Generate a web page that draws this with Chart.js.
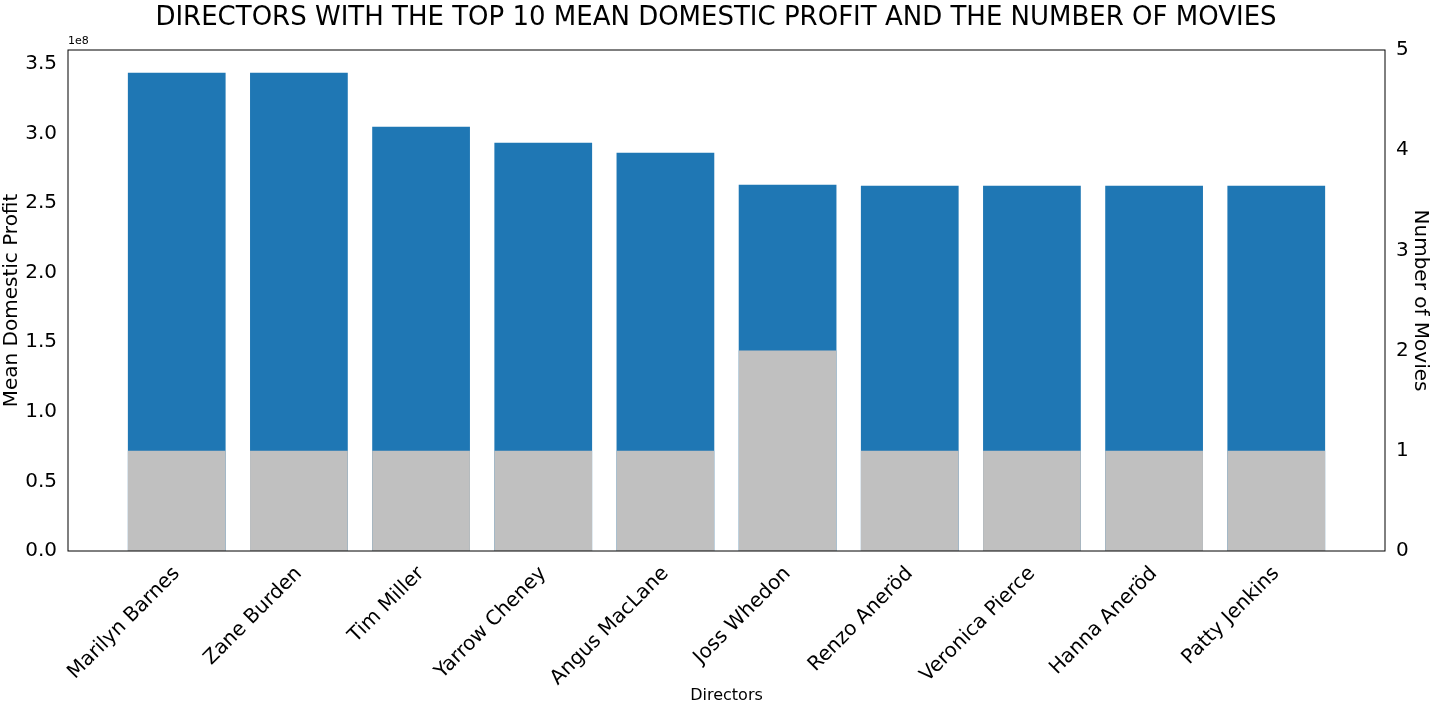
<!DOCTYPE html>
<html>
<head>
<meta charset="utf-8">
<script src="https://cdn.jsdelivr.net/npm/chart.js@4"></script>
<style>
  body { margin: 0; background: #fff; }
  #wrap { width: 1432px; height: 709px; }
</style>
</head>
<body>
<div id="wrap"><canvas id="chart"></canvas></div>
<script>
const directors = ['Marilyn Barnes', 'Zane Burden', 'Tim Miller', 'Yarrow Cheney', 'Angus MacLane',
  'Joss Whedon', 'Renzo Aneröd', 'Veronica Pierce', 'Hanna Aneröd', 'Patty Jenkins'];
const meanProfit = [3.436e8, 3.436e8, 3.048e8, 2.933e8, 2.861e8, 2.631e8, 2.624e8, 2.624e8, 2.624e8, 2.624e8];
const numMovies = [1, 1, 1, 1, 1, 2, 1, 1, 1, 1];
const profitTicks = [0, 0.5, 1.0, 1.5, 2.0, 2.5, 3.0, 3.5];
const movieTicks = [0, 1, 2, 3, 4, 5];

const FONT = 'DejaVu Sans';

// ===== frame, title and offset text =====
const framePlugin = {
  id: 'frame',
  afterDraw(chart) {
    const { ctx, chartArea: a } = chart;
    ctx.save();
    ctx.strokeStyle = '#000';
    ctx.lineWidth = 1;
    ctx.strokeRect(a.left, a.top, a.right - a.left, a.bottom - a.top);
    ctx.fillStyle = '#000';
    ctx.font = '26px ' + FONT;
    ctx.textAlign = 'center';
    ctx.textBaseline = 'middle';
    ctx.fillText('DIRECTORS WITH THE TOP 10 MEAN DOMESTIC PROFIT AND THE NUMBER OF MOVIES', 716, 18);
    ctx.font = '11px ' + FONT;
    ctx.textAlign = 'left';
    ctx.textBaseline = 'bottom';
    ctx.fillText('1e8', a.left, a.top - 3);
    ctx.restore();
  }
};

new Chart(document.getElementById('chart'), {
  type: 'bar',
  data: {
    datasets: [
      {
        label: 'Number of Movies',
        data: numMovies.map((v, i) => ({ x: i, y: v })),
        backgroundColor: '#c0c0c0',
        yAxisID: 'y2',
        order: 0
      },
      {
        label: 'Mean Domestic Profit',
        data: meanProfit.map((v, i) => ({ x: i, y: v })),
        backgroundColor: '#1f77b4',
        yAxisID: 'y',
        order: 1
      }
    ]
  },
  options: {
    responsive: true,
    maintainAspectRatio: false,
    animation: false,
    layout: { padding: { top: 50 } },
    datasets: { bar: { grouped: false, categoryPercentage: 1, barPercentage: 0.8 } },
    plugins: { legend: { display: false }, tooltip: { enabled: false } },
    scales: {
      x: {
        type: 'linear',
        min: -0.89, max: 9.89,
        offset: false,
        grid: { display: false, drawTicks: true },
        border: { display: false },
        afterBuildTicks(s) { s.ticks = directors.map((d, i) => ({ value: i })); },
        afterFit(s) { s.height = 158; },
        ticks: {
          color: '#000',
          font: { family: FONT, size: 20 },
          minRotation: 45, maxRotation: 45,
          autoSkip: false,
          callback: (v) => directors[v]
        },
        title: { display: true, text: 'Directors', color: '#000', font: { family: FONT, size: 16 }, padding: { top: 0 } }
      },
      y: {
        position: 'left',
        min: 0, max: 3.6e8,
        grid: { display: false, drawTicks: true },
        border: { display: false },
        afterBuildTicks(s) { s.ticks = profitTicks.map(v => ({ value: v * 1e8 })); },
        afterFit(s) { s.width = 68; },
        ticks: { color: '#000', font: { family: FONT, size: 20 }, callback: (v) => (v / 1e8).toFixed(1) },
        title: { display: true, text: 'Mean Domestic Profit', color: '#000', font: { family: FONT, size: 20 }, padding: 0 }
      },
      y2: {
        position: 'right',
        min: 0, max: 5,
        grid: { display: false, drawTicks: true },
        border: { display: false },
        afterBuildTicks(s) { s.ticks = movieTicks.map(v => ({ value: v })); },
        afterFit(s) { s.width = 47; },
        ticks: { color: '#000', font: { family: FONT, size: 20 } },
        title: { display: true, text: 'Number of Movies', color: '#000', font: { family: FONT, size: 20 }, padding: 0 }
      }
    }
  },
  plugins: [framePlugin]
});
</script>
</body>
</html>
